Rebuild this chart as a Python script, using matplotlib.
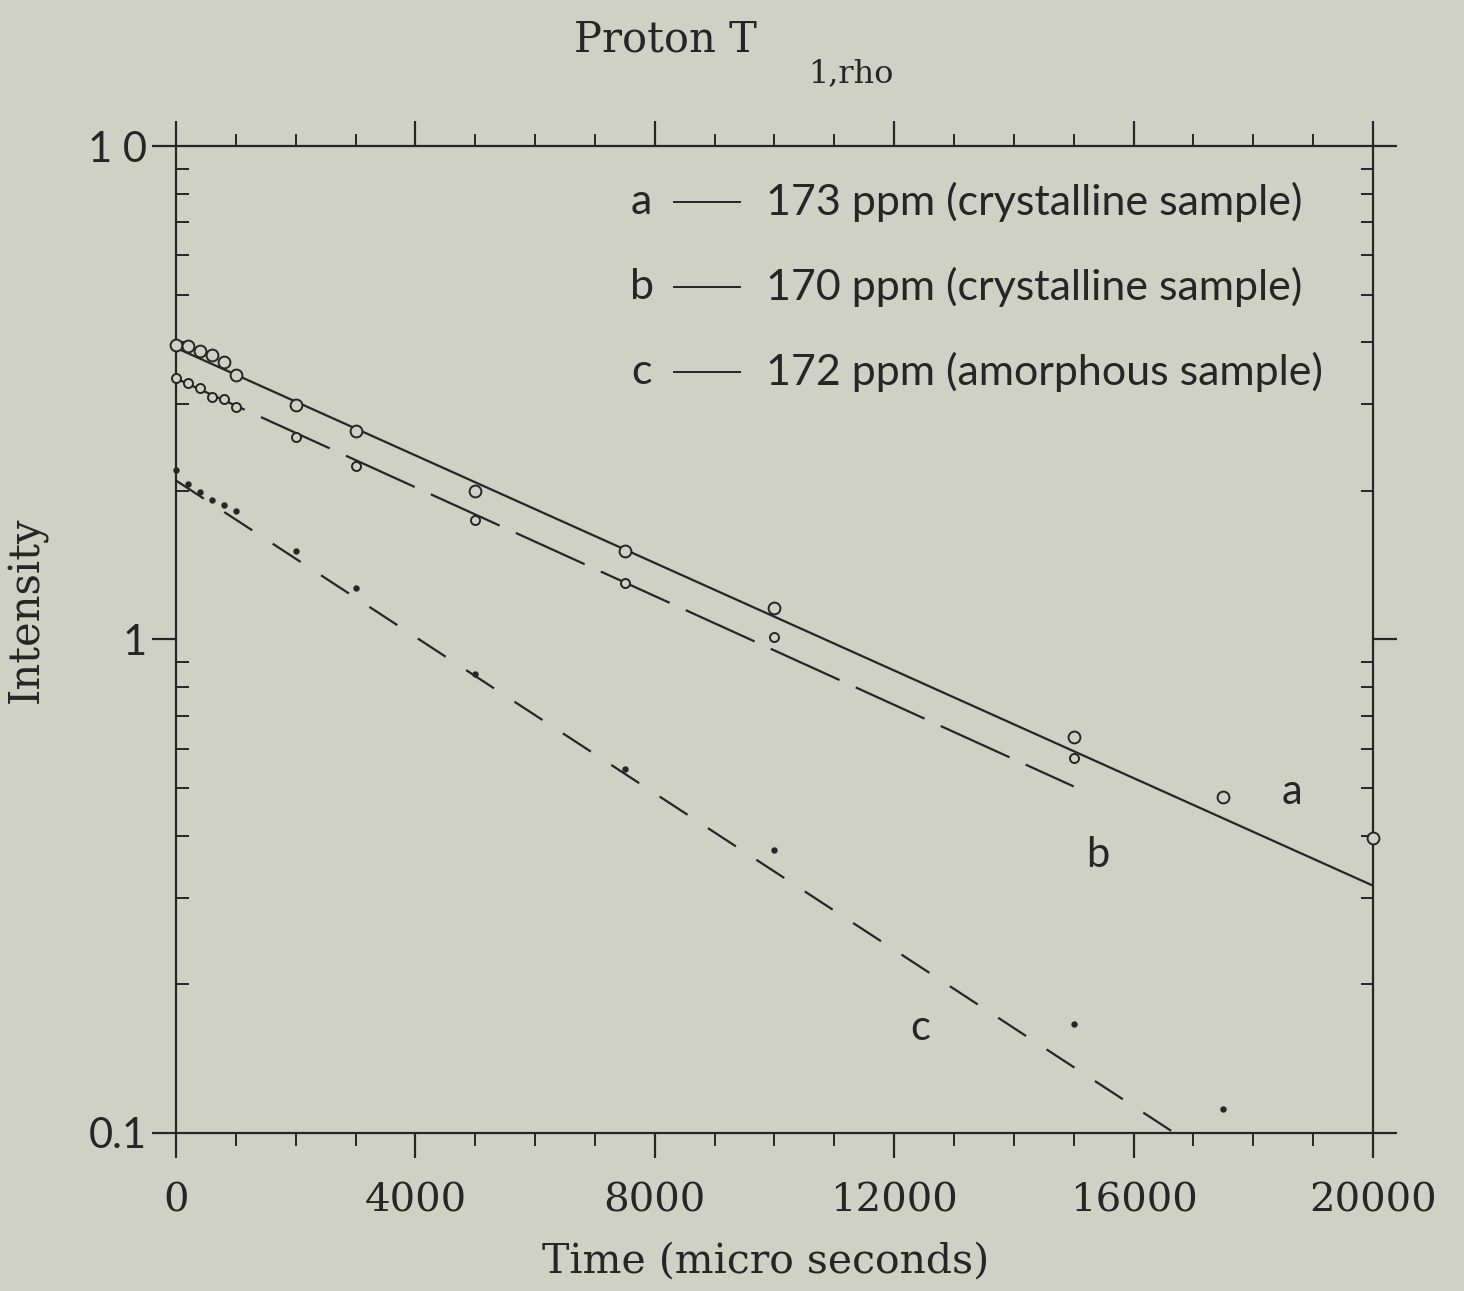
import numpy as np
import matplotlib
matplotlib.use("Agg")
import matplotlib.pyplot as plt
from matplotlib.ticker import FixedLocator, NullFormatter, LogLocator

# Spin-lock times (microseconds) and measured intensities
t_a = [0, 200, 400, 600, 800, 1000, 2000, 3000, 5000, 7500, 10000, 15000, 17500, 20000]
i_a = [3.96, 3.94, 3.85, 3.77, 3.65, 3.44, 2.98, 2.65, 2.00, 1.51, 1.16, 0.635, 0.48, 0.396]

t_b = [0, 200, 400, 600, 800, 1000, 2000, 3000, 5000, 7500, 10000, 15000]
i_b = [3.38, 3.31, 3.23, 3.10, 3.07, 2.96, 2.57, 2.25, 1.75, 1.30, 1.01, 0.574]

t_c = [0, 200, 400, 600, 800, 1000, 2000, 3000, 5000, 7500, 10000, 15000, 17500]
i_c = [2.21, 2.07, 1.99, 1.92, 1.87, 1.82, 1.51, 1.27, 0.851, 0.546, 0.374, 0.166, 0.112]

# Single-exponential fits: amplitude, T1rho (us), time range of the drawn fit
fit_amp = [3.90, 3.38, 2.10]
fit_t1rho = [7970, 7880, 5480]
fit_tmax = [20000, 15000, 20000]

series_letters = ["a", "b", "c"]
series_labels = ["173 ppm (crystalline sample)",
                 "170 ppm (crystalline sample)",
                 "172 ppm (amorphous sample)"]
letter_pos = [(18650, 0.49), (15400, 0.365), (12430, 0.163)]

x_major = [0, 4000, 8000, 12000, 16000, 20000]
y_major = [0.1, 1, 10]
y_major_labels = ["0.1", "1", "1 0"]

bg = "#d0d1c5"
ink = "#262626"

fig = plt.figure(figsize=(14.64, 12.91), dpi=100, facecolor=bg)
ax = fig.add_axes([0.1202, 0.1224, 0.8176, 0.7645], facecolor=bg)
ax.set_yscale("log")
ax.set_xlim(0, 20000)
ax.set_ylim(0.1, 10)

serif = "DejaVu Serif"
sans = "Lato"

# fitted lines
styles = [dict(ls="-"), dict(dashes=(34, 8)), dict(dashes=(15, 11))]
for amp, tau, tmax, st in zip(fit_amp, fit_t1rho, fit_tmax, styles):
    tt = np.array([0.0, tmax])
    ax.plot(tt, amp * np.exp(-tt / tau), color=ink, lw=1.6, **st, zorder=2)

# data points
ax.plot(t_a, i_a, "o", ms=8.5, mfc=bg, mec=ink, mew=1.4, zorder=3, clip_on=False)
ax.plot(t_b, i_b, "o", ms=6.5, mfc=bg, mec=ink, mew=1.4, zorder=3, clip_on=False)
ax.plot(t_c, i_c, "o", ms=3.6, mfc=ink, mec=ink, mew=1.0, zorder=3, clip_on=False)

# curve letters
for s, (x, y) in zip(series_letters, letter_pos):
    ax.text(x, y, s, fontsize=30, family=sans, color=ink, ha="center", va="center")

# legend block
ys = [0.943, 0.857, 0.771]
for s, lab, y in zip(series_letters, series_labels, ys):
    ax.text(0.389, y, s, transform=ax.transAxes, fontsize=31, family=sans,
            color=ink, ha="center", va="center")
    ax.plot([0.416, 0.471], [y, y], transform=ax.transAxes, color=ink, lw=1.4)
    ax.text(0.493, y, lab, transform=ax.transAxes, fontsize=31, family=sans,
            color=ink, ha="left", va="center")

# spines and ticks
for sp in ax.spines.values():
    sp.set_color(ink)
    sp.set_linewidth(1.6)

ax.xaxis.set_major_locator(FixedLocator(x_major))
ax.xaxis.set_minor_locator(FixedLocator(np.arange(0, 20001, 1000)))
ax.set_xticklabels([str(v) for v in x_major], family=serif, fontsize=29, color=ink)
ax.tick_params(axis="x", which="major", direction="out", length=18, width=1.6,
               pad=18, top=True, colors=ink)
ax.tick_params(axis="x", which="minor", direction="out", length=9, width=1.4,
               top=True, colors=ink)

ax.yaxis.set_major_locator(FixedLocator(y_major))
ax.yaxis.set_minor_locator(LogLocator(base=10, subs=np.arange(2, 10)))
ax.yaxis.set_minor_formatter(NullFormatter())
ax.set_yticklabels(y_major_labels, family=sans, fontsize=30, color=ink)
ax.tick_params(axis="y", which="major", direction="out", length=17, width=1.6,
               pad=4, right=True, colors=ink)
ax.tick_params(axis="y", which="minor", direction="in", length=9, width=1.4,
               right=True, colors=ink)

ax.set_xlabel("Time (micro seconds)", family=serif, fontsize=29.5, color=ink)
ax.xaxis.set_label_coords(0.493, -0.11)
ax.set_ylabel("Intensity", family=serif, fontsize=30, color=ink)
ax.yaxis.set_label_coords(-0.107, 0.53)

# title with subscript
fig.text(0.517, 0.986, "Proton T", family=serif, fontsize=30, color=ink,
         ha="right", va="top")
fig.text(0.552, 0.955, "1,rho", family=serif, fontsize=23, color=ink,
         ha="left", va="top")

fig.savefig("out.png", dpi=100, facecolor=bg)
